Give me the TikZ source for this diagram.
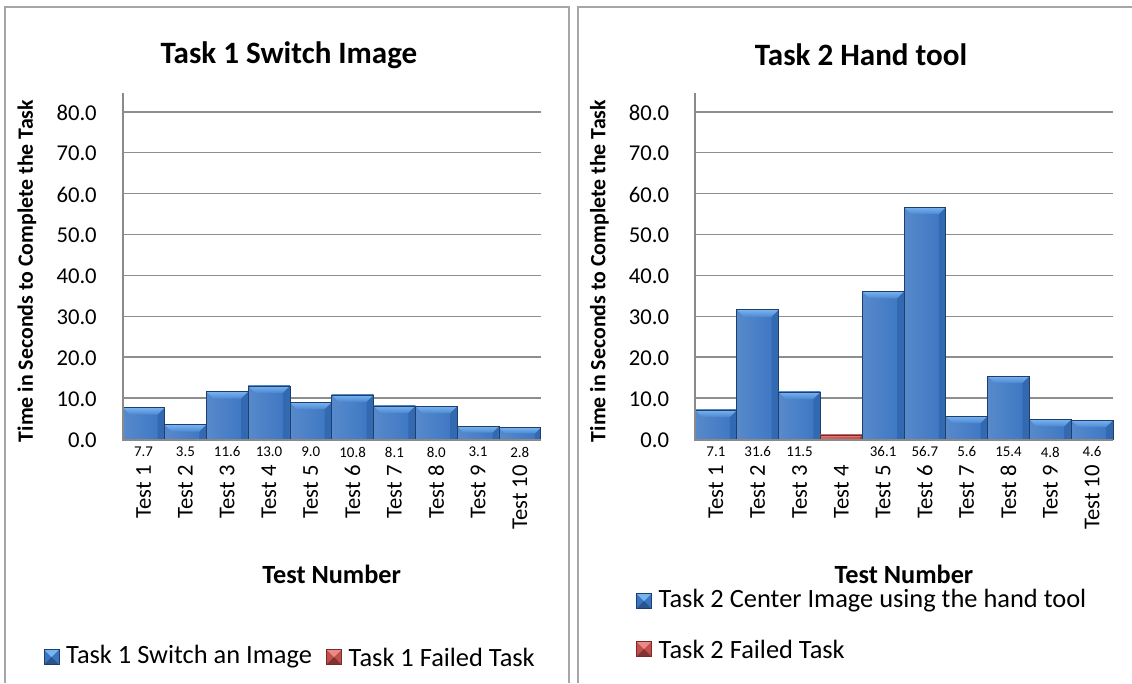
\documentclass[tikz,border=0pt]{standalone}
\usepackage{fontspec}
\setmainfont{Carlito}
\usetikzlibrary{positioning,calc}
\definecolor{frame-gray}{HTML}{A6A6A6}
\definecolor{grid-gray}{HTML}{8E8E8E}
\definecolor{axis-gray}{HTML}{8A8A8A}
\definecolor{bar-face}{HTML}{3A75C2}
\definecolor{bar-light}{HTML}{78B4F2}
\definecolor{bar-side}{HTML}{3369B0}
\definecolor{bar-edge}{HTML}{1E3F6B}
\definecolor{fail-face}{HTML}{C0504D}
\definecolor{fail-light}{HTML}{EC8A86}
\definecolor{fail-side}{HTML}{A33E3B}
\definecolor{fail-edge}{HTML}{7A2A28}

% one bevelled column: left x, value, colour set (bar / fail)
\newcommand{\bevelbar}[3]{%
  \pgfmathsetmacro{\barL}{#1}%
  \pgfmathsetmacro{\barR}{#1+41.8}%
  \pgfmathsetmacro{\barT}{439-4.09*#2}%
  \pgfmathsetmacro{\barB}{min(7,4.09*#2/2)}%
  \shade[left color=#3-face!85!white, right color=#3-face] (\barL,\barT) rectangle (\barR,439);
  \fill[#3-side] (\barR,\barT) -- (\barR,439) -- (\barR-\barB,439) -- (\barR-\barB,\barT+\barB) -- cycle;
  \shade[top color=#3-light, bottom color=#3-face!70!#3-light] (\barL,\barT) -- (\barR,\barT) -- (\barR-\barB,\barT+\barB) -- (\barL+\barB,\barT+\barB) -- cycle;
  \draw[#3-edge, line width=0.5pt] (\barL,\barT) rectangle (\barR,439);
}

\begin{document}
\begin{tikzpicture}[x=0.75pt, y=-0.75pt, font=\fontsize{17}{20}\selectfont]

  \tikzset{
    panel/.style={frame-gray, line width=1.6pt},
    grid line/.style={grid-gray, line width=1.1pt},
    axis line/.style={axis-gray, line width=1.6pt},
    chart title/.style={font=\fontsize{23.3}{28}\selectfont\bfseries},
    axis title/.style={font=\fontsize{16.4}{20}\selectfont\bfseries},
    tick label/.style={anchor=east, inner sep=0pt},
    value label/.style={font=\fontsize{11.2}{13}\selectfont, inner sep=0pt},
    test label/.style={rotate=90, anchor=east, inner sep=0pt},
    legend text/.style={font=\fontsize{19.8}{23}\selectfont, anchor=west, inner sep=0pt},
    legend key/.style={draw=#1-edge, line width=0.4pt, fill=#1-face, minimum size=11.3pt, inner sep=0pt,
      path picture={
        \fill[#1-light] (path picture bounding box.north west) -- (path picture bounding box.north east)
          -- (path picture bounding box.center) -- cycle;
        \fill[#1-side!80!black] (path picture bounding box.south west) -- (path picture bounding box.south east)
          -- (path picture bounding box.center) -- cycle;}}
  }
  \useasboundingbox (0,0) rectangle (1132,683);

  % panel frames, open at the bottom
  \draw[panel] (5,683) -- (5,7) -- (569,7) -- (569,683);
  \draw[panel] (578,683) -- (578,7) -- (1140,7);

  % both charts share the same frame of axes
  \foreach \ox/\name in {0/one, 572.3/two} {
    \begin{scope}[xshift=\ox*0.75pt]
      \foreach \v in {10,20,...,80}
        \draw[grid line] (122.7,439-4.09*\v) -- (540.7,439-4.09*\v);
      \foreach \v in {0,10,...,80}
        \node[tick label] (\name-tick\v) at (97,440-4.09*\v) {\v.0};
      \node[axis title, rotate=90] (\name-ytitle) at (27,271) {Time in Seconds to Complete the Task};
      \node[axis title, font=\fontsize{19.7}{23}\selectfont\bfseries] (\name-xtitle) at (331.7,574) {Test Number};
    \end{scope}
  }

  % Task 1
  \node[chart title] (title1) at (289,55) {Task 1 Switch Image};
  \foreach \val [count=\i] in {7.7,3.5,11.6,13.0,9.0,10.8,8.1,8.0,3.1,2.8} {
    \pgfmathsetmacro{\cx}{143.6+(\i-1)*41.8}
    \bevelbar{122.7+(\i-1)*41.8}{\val}{bar}
    \node[value label] (one-val\i) at (\cx,452) {\val};
    \node[test label] (one-test\i) at (\cx,465) {Test \i};
  }
  \draw[axis line] (122.7,93) -- (122.7,440) -- (540.7,440);

  % Task 2
  \node[chart title] (title2) at (861,55) {Task 2 Hand tool};
  \foreach \val/\kind/\txt [count=\i] in {7.1/bar/7.1, 31.6/bar/31.6, 11.5/bar/11.5, 1.0/fail/{},
      36.1/bar/36.1, 56.7/bar/56.7, 5.6/bar/5.6, 15.4/bar/15.4, 4.8/bar/4.8, 4.6/bar/4.6} {
    \pgfmathsetmacro{\cx}{715.9+(\i-1)*41.8}
    \bevelbar{695+(\i-1)*41.8}{\val}{\kind}
    \node[value label] (two-val\i) at (\cx,452) {\txt};
    \node[test label] (two-test\i) at (\cx,465) {Test \i};
  }
  \draw[axis line] (695,93) -- (695,440) -- (1113,440);

  % legends
  \node[legend key=bar] (key1) at (51.5,657) {};
  \node[legend text, right=5pt of key1] (leg1) {Task 1 Switch an Image};
  \node[legend key=fail] (key1f) at (334,657) {};
  \node[legend text, right=5pt of key1f] (leg1f) {Task 1 Failed Task};

  \node[legend key=bar] (key2) at (644,601) {};
  \node[legend text, right=5pt of key2] (leg2) {Task 2 Center Image using the hand tool};
  \node[legend key=fail] (key2f) at (644,649) {};
  \node[legend text, right=5pt of key2f] (leg2f) {Task 2 Failed Task};

\end{tikzpicture}
\end{document}
